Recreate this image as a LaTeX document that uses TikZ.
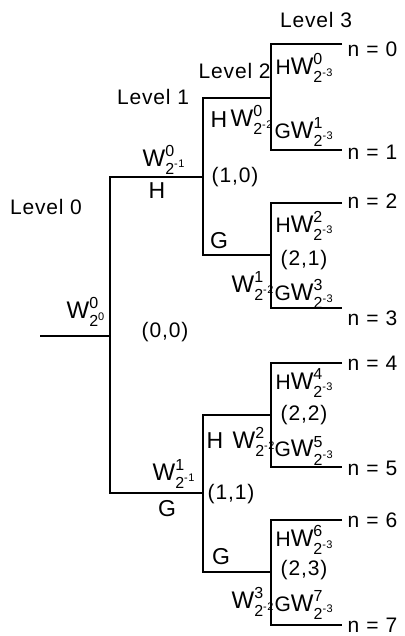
\documentclass[tikz,border=0pt]{standalone}
\usepackage{amsmath}
\usepackage{fontspec}
\setmainfont{Liberation Sans}[LetterSpace=4]
\DeclareMathSizes{21}{21}{14}{10}
\DeclareMathSizes{24}{24}{16}{11}
\newcommand{\Wc}[2]{{\fontsize{24}{26}\selectfont$\text{W}^{\text{#1}}_{\text{2}^{\text{#2}}}$}}
\begin{document}
\begin{tikzpicture}[x=1pt,y=-1pt,line width=1.3pt,
  every node/.style={font=\fontsize{21}{24}\selectfont,inner sep=0pt},
  lev/.style={anchor=center},
  leaf/.style={anchor=west},
  coef/.style={anchor=center},
  pair/.style={anchor=center},
  band/.style={anchor=center,font=\fontsize{23}{26}\selectfont},
  root/.style={line width=1.7pt}]
\useasboundingbox (0,0) rectangle (404,636);
% --- junction coordinates
\coordinate (r) at (40,336);
\coordinate (r0) at (110,336);
\coordinate (a0) at (110,177);
\coordinate (b0) at (110,493);
\coordinate (a1) at (203,177);
\coordinate (b1) at (203,493);
\coordinate (a1t) at (203,98);
\coordinate (a1b) at (203,255);
\coordinate (b1t) at (203,415);
\coordinate (b1b) at (203,572);
\coordinate (c0) at (271,98);
\coordinate (c1) at (271,255);
\coordinate (c2) at (271,415);
\coordinate (c3) at (271,572);
\coordinate (c0t) at (271,44);  \coordinate (c0b) at (271,150);
\coordinate (c1t) at (271,203); \coordinate (c1b) at (271,308);
\coordinate (c2t) at (271,363); \coordinate (c2b) at (271,467);
\coordinate (c3t) at (271,520); \coordinate (c3b) at (271,625);
\coordinate (e0) at (342,44);  \coordinate (e1) at (342,150);
\coordinate (e2) at (342,203); \coordinate (e3) at (342,308);
\coordinate (e4) at (342,363); \coordinate (e5) at (342,467);
\coordinate (e6) at (342,520); \coordinate (e7) at (342,625);
% --- tree lines
\draw[root] (r) -- (r0);
\draw[root] (a1) -- (a0) -- (b0) -- (b1);
\draw (c0) -- (a1t) -- (a1b) -- (c1);
\draw (c2) -- (b1t) -- (b1b) -- (c3);
\draw (e0) -- (c0t) -- (c0b) -- (e1);
\draw (e2) -- (c1t) -- (c1b) -- (e3);
\draw (e4) -- (c2t) -- (c2b) -- (e5);
\draw (e6) -- (c3t) -- (c3b) -- (e7);
% --- level labels
\node[lev] (lv0) at (46,207) {Level 0};
\node[lev] (lv1) at (153,97) {Level 1};
\node[anchor=west] (lv2) at (198,71) {Level 2};
\node[lev] (lv3) at (316,20) {Level 3};
% --- leaf labels
\node[leaf] (n0) at (347,49) {n\,\,=\,\,0};
\node[leaf] (n1) at (347,152) {n\,\,=\,\,1};
\node[leaf] (n2) at (347,201) {n\,\,=\,\,2};
\node[leaf] (n3) at (347,318) {n\,\,=\,\,3};
\node[leaf] (n4) at (347,363) {n\,\,=\,\,4};
\node[leaf] (n5) at (347,468) {n\,\,=\,\,5};
\node[leaf] (n6) at (347,520) {n\,\,=\,\,6};
\node[leaf] (n7) at (347,625) {n\,\,=\,\,7};
% --- level 0
\node[coef] (w00) at (86,312) {\Wc{0}{0}};
\node[pair] (p00) at (165,332) {(0,0)};
% --- level 1
\node[coef] (w10) at (164,160) {\Wc{0}{-1}};
\node[band] (h10) at (157,191) {H};
\node[coef] (w11) at (174,474) {\Wc{1}{-1}};
\node[band] (g11) at (167,509) {G};
% --- level 2 (upper)
\node[band] (h20) at (219,120) {H};
\node[coef] (w20) at (252,120) {\Wc{0}{-2}};
\node[pair] (p10) at (235,177) {(1,0)};
\node[band] (g21) at (219,241) {G};
\node[coef] (w21) at (253,286) {\Wc{1}{-2}};
% --- level 2 (lower)
\node[band] (h22) at (215,441) {H};
\node[coef] (w22) at (254,442) {\Wc{2}{-2}};
\node[pair] (p11) at (231,494) {(1,1)};
\node[band] (g23) at (221,557) {G};
\node[coef] (w23) at (253,602) {\Wc{3}{-2}};
% --- level 3
\node[anchor=west] (w30) at (275,68) {H\Wc{0}{-3}};
\node[anchor=west] (w31) at (274,132) {G\Wc{1}{-3}};
\node[anchor=west] (w32) at (275,226) {H\Wc{2}{-3}};
\node[pair] (p21) at (304,260) {(2,1)};
\node[anchor=west] (w33) at (274,294) {G\Wc{3}{-3}};
\node[anchor=west] (w34) at (275,383) {H\Wc{4}{-3}};
\node[pair] (p22) at (304,415) {(2,2)};
\node[anchor=west] (w35) at (274,451) {G\Wc{5}{-3}};
\node[anchor=west] (w36) at (275,540) {H\Wc{6}{-3}};
\node[pair] (p23) at (304,570) {(2,3)};
\node[anchor=west] (w37) at (274,605) {G\Wc{7}{-3}};
\end{tikzpicture}
\end{document}
